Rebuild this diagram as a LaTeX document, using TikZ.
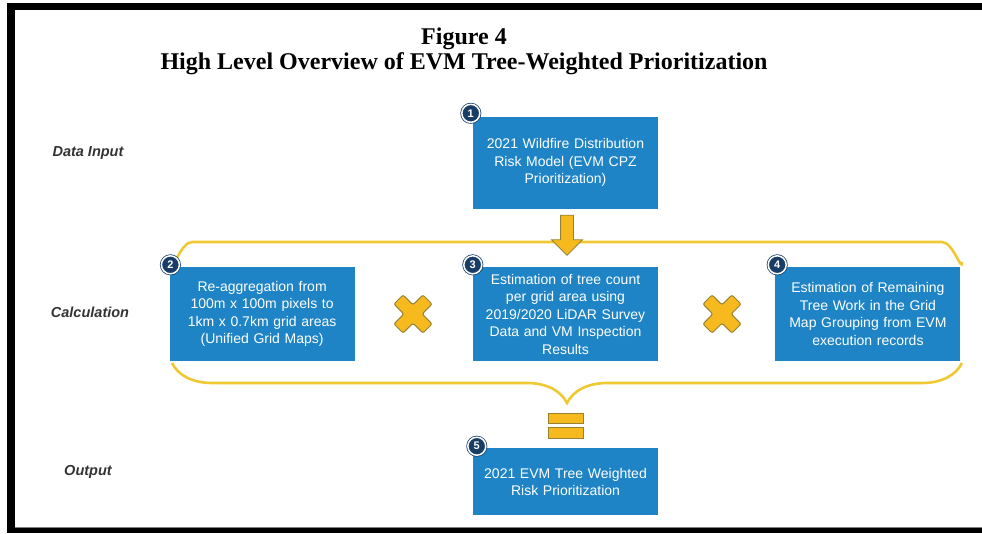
\documentclass[tikz,border=0pt]{standalone}
\usepackage{fontspec}
\setmainfont{Liberation Serif}
\setsansfont{Liberation Sans}
\usepackage{tikz}
\usetikzlibrary{shapes.arrows, decorations.pathreplacing, positioning}
\definecolor{evmblue}{RGB}{30,132,198}
\definecolor{evmnavy}{RGB}{24,62,104}
\definecolor{evmgold}{RGB}{246,186,30}
\definecolor{evmedge}{RGB}{150,130,50}
\definecolor{evmline}{RGB}{240,200,50}
\tikzstyle{stage} = [rectangle, minimum width=185pt, minimum height=94pt, inner sep=0pt, text width=182pt, align=center, fill=evmblue, text=white, font=\sffamily\fontsize{14}{17.5}\selectfont]
\tikzstyle{numdot} = [circle, minimum size=18pt, inner sep=0pt, fill=evmnavy, draw=white, line width=1.5pt, preaction={draw=evmnavy, line width=3pt}, text=white, font=\sffamily\bfseries\fontsize{11}{11}\selectfont]
\tikzstyle{rowlabel} = [font=\sffamily\bfseries\itshape\fontsize{14.5}{14.5}\selectfont, text=black!80]
\tikzstyle{bracket} = [draw=evmline, line width=2.6pt, decorate, decoration={brace, amplitude=40pt}]
\tikzstyle{sign} = [fill=evmgold, draw=evmedge, line width=1pt]

\begin{document}
\begin{tikzpicture}[x=1pt, y=-1pt]
\useasboundingbox (0,0) rectangle (982,533);
\fill (7,3) rectangle (982,10);
\fill (7,3) rectangle (15,533);
\fill (7,528) rectangle (982,533);
\draw[gray] (15,527) -- (982,527);

\node (fig) at (464,39) {\fontsize{24}{26}\bfseries Figure 4};
\node (title) at (464,64) {\fontsize{24}{26}\bfseries High Level Overview of EVM Tree-Weighted Prioritization};

\node[rowlabel] (lin) at (88,153) {Data Input};
\node[rowlabel] (lcalc) at (90,312) {Calculation};
\node[rowlabel] (lout) at (88,472) {Output};

\coordinate (topL) at (172,262);
\coordinate (topR) at (962,262);
\coordinate (botL) at (172,363);
\coordinate (botR) at (962,363);
\draw[evmline, line width=2.6pt] (topL) to[out=-90, in=180] ++(20,-20) -- ++(750,0) to[out=0, in=-90] (topR);
\draw[bracket] (botR) -- (botL);

\node[stage, minimum height=92pt] (model) at (565.5,162.5) {2021 Wildfire Distribution\\Risk Model (EVM CPZ\\Prioritization)};
\node[stage] (treecount) at (565.5,314) {Estimation of tree count\\per grid area using\\2019/2020 LiDAR Survey\\Data and VM Inspection\\Results};
\node[stage, left=118pt of treecount] (regrid) {Re-aggregation from\\100m x 100m pixels to\\1km x 0.7km grid areas\\(Unified Grid Maps)};
\node[stage, right=117pt of treecount] (remaining) {Estimation of Remaining\\Tree Work in the Grid\\Map Grouping from EVM\\execution records};
\node[stage, minimum height=67pt, below=87pt of treecount] (result) {2021 EVM Tree Weighted\\Risk Prioritization};

\node[numdot, xshift=-2pt, yshift=3pt] (n1) at (model.north west) {1};
\node[numdot, xshift=1pt, yshift=2pt] (n2) at (regrid.north west) {2};
\node[numdot, xshift=0pt, yshift=2pt] (n3) at (treecount.north west) {3};
\node[numdot, xshift=2pt, yshift=2pt] (n4) at (remaining.north west) {4};
\node[numdot, xshift=4pt, yshift=2pt] (n5) at (result.north west) {5};

\node[single arrow, sign, line width=0.8pt, rotate=-90, minimum height=40pt, inner sep=6pt, single arrow head extend=9pt] (feed) at (567,232) {};

\foreach \cx in {413,722}
  \draw[sign, rounded corners=2pt, shift={(\cx,314)}, rotate=45] (6.5,20.5) -- (6.5,6.5) -- (20.5,6.5) -- (20.5,-6.5) -- (6.5,-6.5) -- (6.5,-20.5) -- (-6.5,-20.5) -- (-6.5,-6.5) -- (-20.5,-6.5) -- (-20.5,6.5) -- (-6.5,6.5) -- (-6.5,20.5) -- cycle;

\draw[sign] (548,413) rectangle (583,423);
\draw[sign] (548,427) rectangle (583,438);
\end{tikzpicture}
\end{document}
